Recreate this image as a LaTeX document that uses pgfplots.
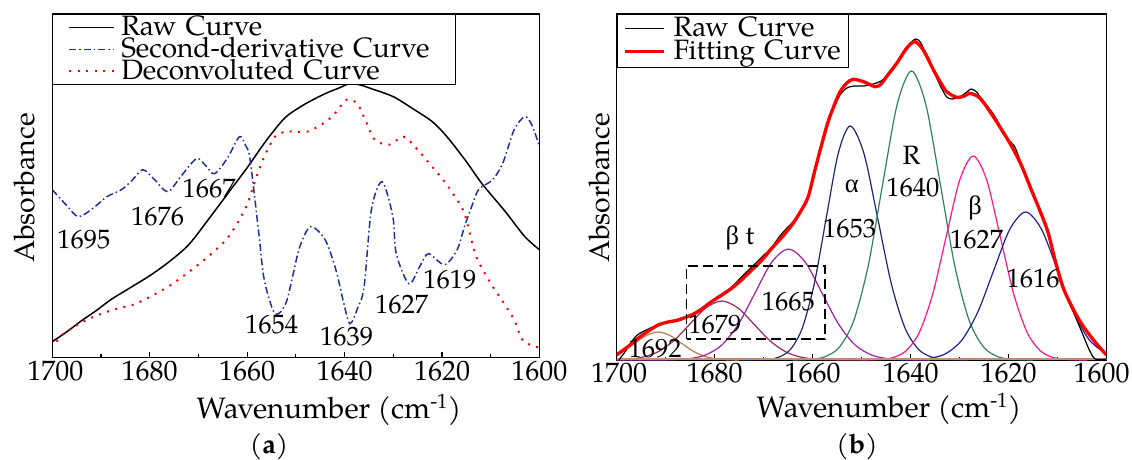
\documentclass[border=0pt]{standalone}
\usepackage{fontspec}
\setmainfont{TeX Gyre Pagella}
\newfontfamily\grk{Liberation Serif}
\usepackage{pgfplots}
\pgfplotsset{compat=1.18}
\definecolor{dnavy}{RGB}{30,50,150}
\definecolor{cA}{RGB}{190,120,80}
\definecolor{cB}{RGB}{150,40,100}
\definecolor{cC}{RGB}{160,30,160}
\definecolor{cD}{RGB}{30,40,110}
\definecolor{cE}{RGB}{50,130,90}
\definecolor{cF}{RGB}{255,20,140}
\definecolor{cG}{RGB}{30,30,150}
\definecolor{cBase}{RGB}{200,140,110}
\tikzset{ann/.style={font=\fontsize{26.5}{28}\selectfont, inner sep=0pt}}
\begin{document}
\begin{tikzpicture}
\useasboundingbox (0,0) rectangle (1132pt,459pt);
\pgfplotsset{
  base/.style={scale only axis, anchor=south west, x dir=reverse,
    xmin=1600, xmax=1700, ymin=0,
    xtick={1600,1620,1640,1660,1680,1700},
    minor xtick={1610,1630,1650,1670,1690},
    ytick=\empty, xtick pos=left, tick align=inside,
    major tick length=6pt, minor tick length=3.5pt,
    every tick/.append style={black, line width=1.2pt},
    axis line style={black, line width=1.3pt},
    xticklabel style={font=\fontsize{28}{30}\selectfont},
    /pgf/number format/1000 sep={},
    /pgf/number format/assume math mode=true,
  }
}
% ---------------- panel (a) ----------------
\begin{axis}[base, at={(52.3pt,101.3pt)}, width=487.2pt, height=343.7pt, ymax=343.7,
  xticklabels={1600,1620,1640,1660,1680,\hspace*{6pt}1700},
  legend cell align=left,
  legend style={at={(0,1)}, anchor=north west, draw=black, line width=0.8pt, fill=white,
    inner xsep=0pt, inner ysep=2pt, row sep=0pt, column sep=0pt,
    font=\fontsize{28}{30}\selectfont,
    nodes={inner sep=0pt, text height=19.5pt, text depth=2.5pt, text width=334pt, align=left}},
  legend image code/.code={\path (0pt,0pt) (66.6pt,0pt); \draw[#1] (15.6pt,0pt) -- (60.2pt,0pt);},
]
\addplot[black, line width=1.5pt, smooth] coordinates {
(1700,16) (1697,26) (1694,37) (1691,47) (1688,58) (1684,70) (1680,82) (1676,96) (1672,113)
(1668,138) (1664,164) (1660,190) (1657,211) (1655,224) (1652,241) (1648,254) (1644,264)
(1641,270) (1639,274) (1637,273) (1634.5,269) (1630,261) (1626,249) (1622,236) (1619,221)
(1615,196) (1611.8,174) (1607,146) (1603,121) (1600,108)};
\addlegendentry{Raw Curve}
\addplot[dnavy, line width=1.5pt, dash pattern=on 7pt off 3pt on 1.5pt off 3pt, smooth] coordinates {
(1700,168) (1697,152) (1694.6,141) (1691.5,150) (1688.8,161) (1685.8,168) (1683.5,178)
(1681.4,188) (1679,178) (1676.3,166) (1673.5,182) (1670.4,199) (1668.5,192) (1666.7,184)
(1664,200) (1661.6,221) (1660.3,212) (1659.4,198) (1657.6,124) (1656.5,78) (1654.3,44)
(1652.1,54) (1650.5,85) (1649.2,111) (1647,131) (1644,118) (1641.8,88) (1640.2,55)
(1638.9,34) (1637.3,50) (1636,71) (1634.5,148) (1632.3,176) (1630.1,141) (1629.4,104)
(1626.8,74) (1624.5,92) (1622.8,104) (1619.5,93) (1616.9,108) (1615.4,131) (1614,150)
(1612.5,168) (1609.6,178) (1607.5,195) (1605.2,228) (1603,241) (1601.5,232) (1600,211)};
\addlegendentry{Second-derivative Curve}
\addplot[red, line width=2pt, dash pattern=on 2pt off 6.5pt, smooth] coordinates {
(1699.1,16) (1697.7,24) (1692.9,38) (1687.5,48) (1683.4,53) (1679.9,61) (1675.9,72)
(1671.9,86) (1667.8,102) (1663.8,121) (1660.2,151) (1658.3,178) (1656.5,201) (1654.3,221)
(1652.1,226) (1649.9,226) (1647.7,226) (1645.5,231) (1643.3,238) (1641.5,247) (1639.6,258)
(1637.4,254) (1635.6,236) (1633.8,218) (1630.8,213) (1627.9,221) (1625,208) (1622.4,193)
(1619.8,178) (1617.6,163) (1615.4,144) (1613.2,104) (1611.4,86) (1609.6,71) (1607.1,53)
(1605,36) (1603.7,19) (1602,13) (1600,10)};
\addlegendentry{Deconvoluted Curve}
\node[ann] at (axis cs:1693.5,118) {1695};
\node[ann] at (axis cs:1678.4,141) {1676};
\node[ann] at (axis cs:1667.8,169.5) {1667};
\node[ann] at (axis cs:1655,32.7) {1654};
\node[ann] at (axis cs:1639.6,21) {1639};
\node[ann] at (axis cs:1628.3,53.5) {1627};
\node[ann] at (axis cs:1618.4,77.7) {1619};
\end{axis}
% ---------------- panel (b) ----------------
\begin{axis}[base, at={(616.5pt,99pt)}, width=490pt, height=346pt, ymax=346,
  xticklabels={\hspace*{-10pt}1600,1620,1640,1660,1680,\hspace*{5pt}1700},
  legend cell align=left,
  legend style={at={(0,1)}, anchor=north west, draw=black, line width=0.8pt, fill=white,
    inner xsep=0pt, inner ysep=3pt, row sep=0pt, column sep=0pt,
    font=\fontsize{28}{30}\selectfont,
    nodes={inner sep=0pt, text height=19pt, text depth=4.3pt, text width=175pt, align=left}},
  legend image code/.code={\path (0pt,0pt) (53.5pt,0pt); \draw[#1] (6.8pt,0.95pt) -- (45.2pt,0.95pt);},
]
\addplot[cA, line width=1.2pt, smooth, forget plot] coordinates {
(1700,5.5) (1698.55,9.1) (1696.2,17.0) (1693.85,24.7) (1691.5,28) (1689.15,24.7) (1686.8,17.0)
(1684.45,9.1) (1682.1,3.8) (1679.75,1.2) (1677.4,0.3) (1675,0)};
\addplot[cB, line width=1.2pt, smooth, forget plot] coordinates {
(1700,0.3) (1698.15,0.65) (1694.875,2.6) (1691.6,8.0) (1688.325,19.2) (1685.05,35.8)
(1681.775,52.1) (1678.5,59) (1675.225,52.1) (1671.95,35.8) (1668.675,19.2) (1665.4,8.0)
(1662.125,2.6) (1658.85,0.65) (1655.6,0.13) (1650,0)};
\addplot[cC, line width=1.2pt, smooth, forget plot] coordinates {
(1700,0) (1692,0.04) (1688.7,0.24) (1685.3,1.2) (1681.9,4.9) (1678.5,15.0) (1675.1,36.0)
(1671.7,67.3) (1668.3,98.0) (1664.9,111) (1661.5,98.0) (1658.1,67.3) (1654.7,36.0)
(1651.3,15.0) (1647.9,4.9) (1644.5,1.2) (1641.1,0.24) (1636,0)};
\addplot[cD, line width=1.2pt, smooth, forget plot] coordinates {
(1675,0) (1669.45,0.5) (1667,2.6) (1664.55,10.3) (1662.1,31.7) (1659.65,76.0) (1657.2,141.9)
(1654.75,206.5) (1652.3,234) (1649.5,206.5) (1646.7,141.9) (1643.9,76.0) (1641.1,31.7)
(1638.3,10.3) (1635.5,2.6) (1632.7,0.5) (1628,0)};
\addplot[cE, line width=1.2pt, smooth, forget plot] coordinates {
(1664,0) (1660.45,0.64) (1657.5,3.2) (1654.55,12.7) (1651.6,39.1) (1648.65,93.8) (1645.7,175.3)
(1642.75,255.0) (1639.8,289) (1636.85,255.0) (1633.9,175.3) (1630.95,93.8) (1628,39.1)
(1625.05,12.7) (1622.1,3.2) (1619.15,0.64) (1615,0)};
\addplot[cF, line width=1.2pt, smooth, forget plot] coordinates {
(1650,0) (1646.45,0.45) (1643.7,2.26) (1640.95,8.96) (1638.2,27.6) (1635.45,66.2) (1632.7,123.7)
(1629.95,180.0) (1627.2,204) (1624.45,180) (1621.7,123.7) (1618.95,66.2) (1616.2,27.6)
(1613.45,8.96) (1610.7,2.26) (1607.95,0.45) (1604,0)};
\addplot[cG, line width=1.2pt, smooth, forget plot] coordinates {
(1642,0) (1639.25,0.33) (1636,1.64) (1632.75,6.5) (1629.5,20.0) (1626.25,48.1) (1623,89.8)
(1619.75,130.6) (1616.5,148) (1613.25,130.6) (1610,89.8) (1606.75,48.1) (1603.5,20.0) (1600,5.9)};
\addplot[cBase, line width=2pt, forget plot] coordinates {(1600,1.2) (1700,1.2)};
\addplot[black, line width=1.2pt, smooth] coordinates {
(1699.5,0) (1698,10) (1696,24) (1693.5,31) (1691.5,35) (1689.5,38) (1687.4,41) (1685.5,44)
(1683.5,49) (1681,58) (1678.5,66) (1676.5,73) (1674.5,83) (1672.4,93) (1670.3,103)
(1668.3,113) (1666.5,125) (1665,133) (1664,138) (1662.5,149) (1660.9,164) (1659.5,188)
(1658.1,214) (1656.9,235) (1655.8,250) (1654.4,265) (1653,272) (1651.5,274) (1649.6,274)
(1647.6,276) (1646,279) (1644.9,284) (1642.8,298) (1640.8,313) (1639,321) (1638,318)
(1637.4,312) (1635.3,289) (1633.8,273) (1632.6,263) (1631.5,261) (1630,263) (1628.5,268)
(1627.6,271) (1626.5,268) (1625.8,263) (1623.1,246) (1621.5,232) (1620,220) (1618.8,214)
(1617.5,198) (1615.6,175) (1612.2,130) (1610.5,100) (1608.8,71) (1606.5,45) (1604.7,24)
(1603.5,10) (1602.3,1) (1600,1)};
\addlegendentry{Raw Curve}
\addplot[red, line width=3.3pt, smooth] coordinates {
(1700,5) (1697.5,14) (1695.6,21.7) (1693.5,29) (1691.5,35) (1689.5,38) (1687.4,40)
(1684.7,45) (1682.5,51) (1680.6,58.3) (1678.5,65) (1676.5,71.7) (1674.5,80) (1672.4,90)
(1670.3,100) (1668.3,111.7) (1666.2,123) (1664.2,135) (1662.5,148) (1660.9,163)
(1659.5,190) (1658.1,216) (1656.9,237) (1655.8,252) (1654.4,268) (1653,277) (1651.7,280.7)
(1649.6,278.3) (1647.2,273.3) (1646,276) (1644.9,283.3) (1642.8,296.7) (1640.8,311.7)
(1639.1,318.3) (1637.4,310) (1635.3,290) (1633.8,277) (1632.6,268.3) (1630.6,262.7)
(1629,264) (1627.9,266.7) (1625.8,261.7) (1623.1,243.3) (1619.7,216.7) (1617.5,196)
(1615.6,173.3) (1612.2,131.7) (1610.5,100) (1608.8,71.7) (1606.5,48) (1604.7,33.3)
(1602.5,19) (1600,5)};
\addlegendentry{Fitting Curve}
\draw[black, line width=1.6pt, dash pattern=on 10pt off 5pt]
  (axis cs:1685.7,21) rectangle (axis cs:1657.4,94.3);
\node[ann] at (axis cs:1692.1,11.7) {1692};
\node[ann] at (axis cs:1679.9,35) {1679};
\node[ann] at (axis cs:1664.9,58.3) {1665};
\node[ann] at (axis cs:1674.8,121.7) {{\grk β} t};
\node[ann] at (axis cs:1652,174) {\grk α};
\node[ann] at (axis cs:1652.4,131.7) {1653};
\node[ann] at (axis cs:1639.8,205) {R};
\node[ann] at (axis cs:1639.5,172) {1640};
\node[ann] at (axis cs:1626.8,151.7) {\grk β};
\node[ann] at (axis cs:1626.5,120) {1627};
\node[ann] at (axis cs:1615,81.7) {1616};
\end{axis}
% ---------------- outer labels ----------------
\node[rotate=90, anchor=base, font=\fontsize{28.5}{30}\selectfont] at (34pt,271pt) {Absorbance};
\node[rotate=90, anchor=base, font=\fontsize{28.5}{30}\selectfont] at (609pt,271pt) {Absorbance};
\node[anchor=base, font=\fontsize{29.5}{31}\selectfont] at (329pt,41pt) {Wavenumber (cm\textsuperscript{-1})};
\node[anchor=base, font=\fontsize{29.5}{31}\selectfont] at (889pt,42pt) {Wavenumber (cm\textsuperscript{-1})};
\node[anchor=base, font=\fontsize{27}{29}\selectfont] at (269pt,6pt) {(\textbf{a})};
\node[anchor=base, font=\fontsize{27}{29}\selectfont] at (857pt,6pt) {(\textbf{b})};
\end{tikzpicture}
\end{document}
